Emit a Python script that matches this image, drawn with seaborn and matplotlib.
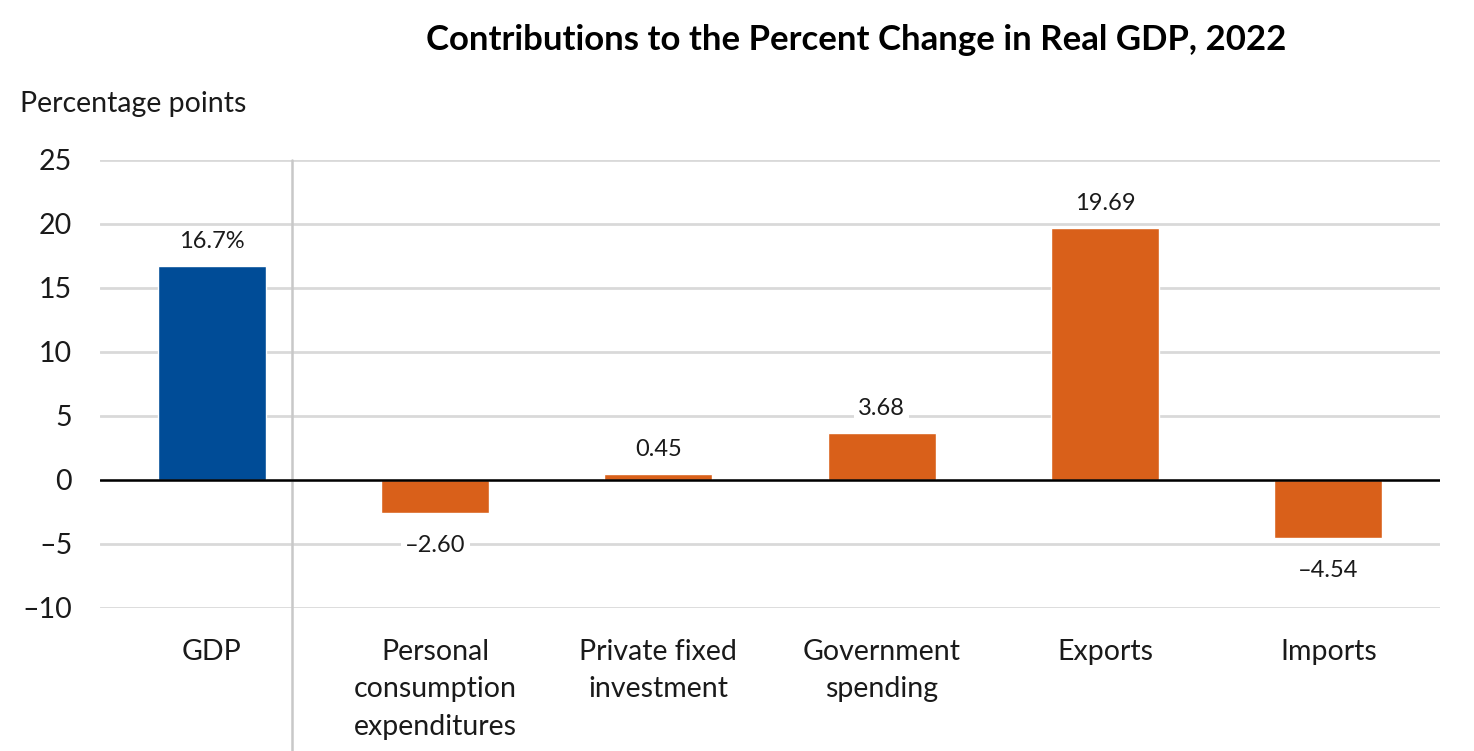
import pandas as pd
import matplotlib.pyplot as plt
import matplotlib.transforms as mtransforms
import seaborn as sns

# Data
categories = ["GDP", "Personal\nconsumption\nexpenditures", "Private fixed\ninvestment",
              "Government\nspending", "Exports", "Imports"]
values = [16.7, -2.60, 0.45, 3.68, 19.69, -4.54]
groups = ["total", "part", "part", "part", "part", "part"]
yticks = [-10, -5, 0, 5, 10, 15, 20, 25]

df = pd.DataFrame({"category": categories, "value": values, "group": groups})

sns.set_theme(style="white")
plt.rcParams['font.family'] = ['Lato', 'DejaVu Sans']

fig = plt.figure(figsize=(14.74, 7.51), dpi=100)
ax = fig.add_axes([100 / 1474, 1 - 608 / 751, 1340 / 1474, 448 / 751])

sns.barplot(data=df, x="category", y="value", hue="group",
            palette={"total": "#004C97", "part": "#D9601A"}, saturation=1,
            dodge=False, width=0.485, legend=False, ax=ax, zorder=3)

ax.set_ylim(-10, 25)
ax.set_xlim(-0.5, 5.5)
ax.set_yticks(yticks)
ax.set_yticklabels([str(t).replace("-", "\u2013") for t in yticks])
ax.yaxis.grid(True, color="#d9d9d9", linewidth=2, zorder=0)
ax.set_axisbelow(True)
ax.axhline(0, color="black", linewidth=1.8, zorder=4)
for s in ax.spines.values():
    s.set_visible(False)
ax.tick_params(axis="y", length=0, pad=20, labelsize=20.5, labelcolor="#1a1a1a")
ax.tick_params(axis="x", length=0, pad=22, labelsize=20.5, labelcolor="#1a1a1a")
for lbl in ax.get_xticklabels():
    lbl.set_linespacing(1.55)
ax.set_xlabel("")
ax.set_ylabel("")

# separator between GDP and its components
trans = mtransforms.blended_transform_factory(ax.transData, ax.transAxes)
ax.plot([0.36, 0.36], [1, -0.33], transform=trans, color="#c8c8c8",
        linewidth=1.8, clip_on=False, zorder=1)

# value labels
for i, v in enumerate(values):
    txt = "16.7%" if i == 0 else f"{v:.2f}".replace("-", "\u2013")
    off = 1.9 if v >= 0 else -2.5
    ax.text(i, v + off, txt, ha="center", va="center", fontsize=17, color="#1a1a1a",
            bbox=dict(facecolor="white", edgecolor="none", pad=3), zorder=5)

fig.text(856 / 1474, 1 - 40 / 751, "Contributions to the Percent Change in Real GDP, 2022",
         ha="center", va="center", fontsize=25, fontweight="bold", color="black")
fig.text(20 / 1474, 1 - 104 / 751, "Percentage points", ha="left", va="center",
         fontsize=20.5, color="#1a1a1a")

fig.savefig("out.png", dpi=100, facecolor="white")
